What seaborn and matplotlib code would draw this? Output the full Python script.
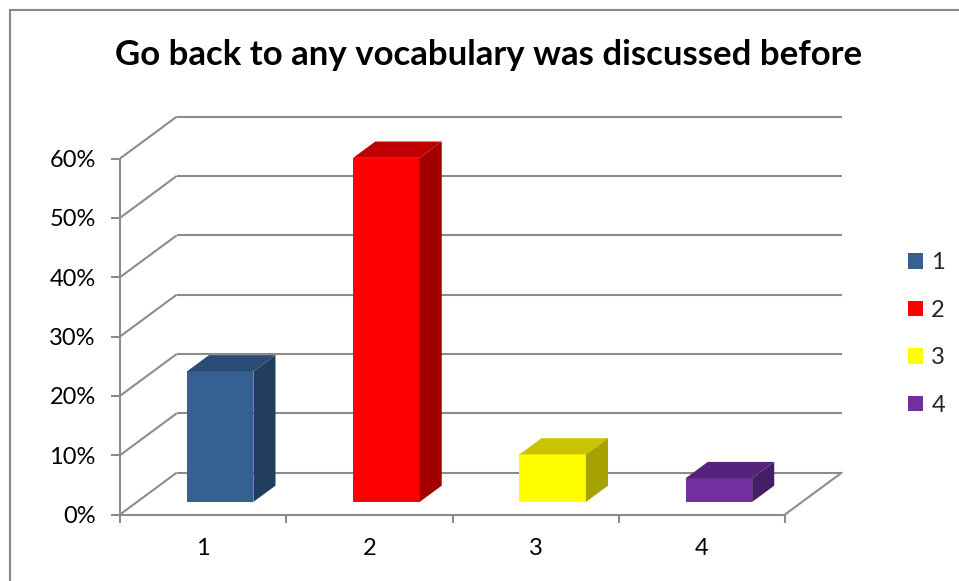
import matplotlib
matplotlib.use("Agg")
import matplotlib.pyplot as plt
import seaborn as sns
import pandas as pd
from matplotlib.patches import Polygon, Rectangle, Patch

# ---- data ----
categories = ["1", "2", "3", "4"]
values = [22, 58, 8, 4]          # percent
yticks = [0, 10, 20, 30, 40, 50, 60]
title = "Go back to any vocabulary was discussed before"

front_colors = ["#366092", "#FF0000", "#FFFF00", "#7030A0"]
top_colors = ["#2B4C74", "#C00000", "#C8C500", "#55237A"]
side_colors = ["#223E5E", "#A00000", "#A6A300", "#461E66"]

sns.set_theme(style="white")
plt.rcParams["font.family"] = ["Lato", "DejaVu Sans"]

W, H, DPI = 959, 581, 100
fig = plt.figure(figsize=(W / DPI, H / DPI), dpi=DPI)

# pixel mapping
px_per_x = 166.25
px_per_y = 5.933
x0_px, y0_px = 120, 514.5
xlim = (-0.5, 4.2)
ylim = (0, 72)
ax = fig.add_axes([x0_px / W, (H - y0_px) / H,
                   (xlim[1] - xlim[0]) * px_per_x / W,
                   (ylim[1] - ylim[0]) * px_per_y / H])

# depth vector (data units)
DX, DY = 0.341, 7.05
F0, F1 = 0.30, 0.69
grid_c = "#8C8C8C"
lw = 1.5

df = pd.DataFrame({"cat": categories, "val": values})
sns.barplot(data=df, x="cat", y="val", hue="cat", palette=front_colors,
            width=0.4, legend=False, ax=ax, saturation=1, zorder=5,
            linewidth=0)
ax.set_xlim(*xlim)
ax.set_ylim(*ylim)

n = len(categories)
# walls / gridlines
for v in yticks:
    ax.plot([-0.5, -0.5 + DX], [v, v + DY], color=grid_c, lw=lw, zorder=1,
            clip_on=False, solid_capstyle="butt")
    ax.plot([-0.5 + DX, n - 0.5 + DX], [v + DY, v + DY], color=grid_c, lw=lw,
            zorder=1, clip_on=False, solid_capstyle="butt")
ax.plot([n - 0.5, n - 0.5 + DX], [0, DY], color=grid_c, lw=lw, zorder=1,
        clip_on=False)

# 3D bars
ddx, ddy = (F1 - F0) * DX, (F1 - F0) * DY
for i, p in enumerate(ax.patches[:n]):
    x = p.get_x() + F0 * DX
    b = F0 * DY
    w = p.get_width()
    h = p.get_height()
    p.set_x(x)
    p.set_y(b)
    top = Polygon([(x, b + h), (x + w, b + h), (x + w + ddx, b + h + ddy),
                   (x + ddx, b + h + ddy)], closed=True,
                  facecolor=top_colors[i], edgecolor="none", zorder=5)
    side = Polygon([(x + w, b), (x + w + ddx, b + ddy),
                    (x + w + ddx, b + h + ddy), (x + w, b + h)], closed=True,
                   facecolor=side_colors[i], edgecolor="none", zorder=5)
    ax.add_patch(top)
    ax.add_patch(side)

# axes styling
for s in ["top", "right"]:
    ax.spines[s].set_visible(False)
for s in ["left", "bottom"]:
    ax.spines[s].set_color(grid_c)
    ax.spines[s].set_linewidth(lw)
ax.spines["left"].set_bounds(0, 60)
ax.spines["bottom"].set_bounds(-0.5, n - 0.5)

ax.set_yticks(yticks)
ax.set_yticklabels([f"{v}%" for v in yticks])
ax.tick_params(axis="y", length=6.5, width=lw, color=grid_c, pad=11,
               labelsize=17, labelcolor="black", left=True)
ax.set_xticks([i - 0.5 for i in range(n + 1)])
ax.set_xticklabels([""] * (n + 1))
ax.tick_params(axis="x", which="major", length=5.8, width=lw, color=grid_c,
               bottom=True)
ax.set_xticks(range(n), minor=True)
ax.set_xticklabels(categories, minor=True)
ax.tick_params(axis="x", which="minor", length=0, pad=17, labelsize=17,
               labelcolor="black")
ax.set_xlabel("")
ax.set_ylabel("")

# legend
handles = [Patch(facecolor=c, edgecolor="none") for c in front_colors]
fig.legend(handles, categories, loc="center left",
           bbox_to_anchor=(908 / W, 1 - 334 / H), frameon=False,
           fontsize=17, handlelength=0.64, handleheight=0.64,
           handletextpad=0.35, labelspacing=1.12, borderpad=0,
           borderaxespad=0)

fig.text(489 / W, 1 - 55 / H, title, ha="center", va="center",
         fontsize=25, fontweight="bold", color="black")

# chart border
fig.add_artist(Rectangle((9.5 / W, -0.1), 1.2, 1 - 10 / H + 0.1,
                         transform=fig.transFigure, fill=False,
                         edgecolor="#888888", lw=1.5))

fig.savefig("out.png", dpi=DPI, facecolor="white")
